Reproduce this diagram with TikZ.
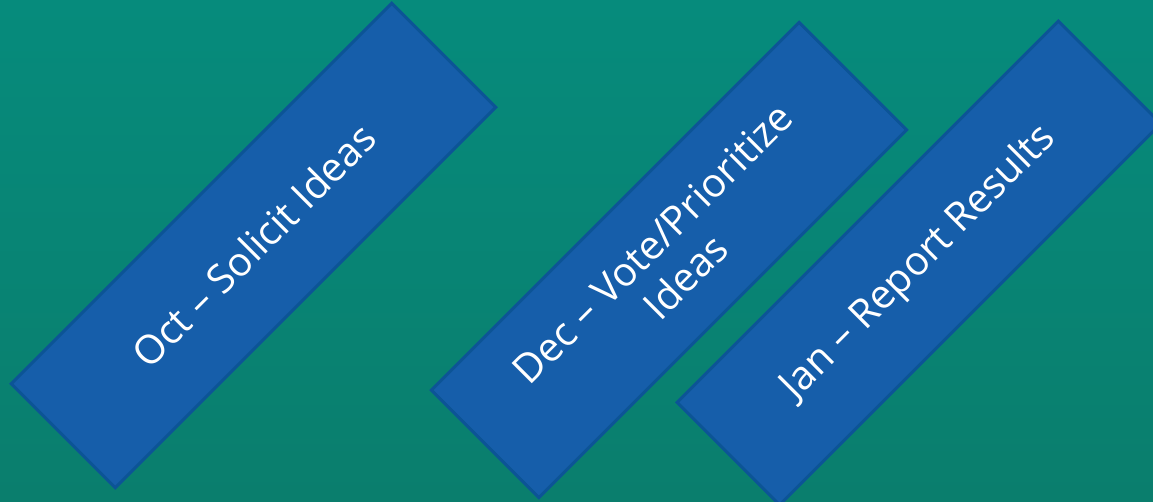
\documentclass[tikz,border=0pt]{standalone}
\usepackage{fontspec}
\setmainfont{Open Sans}
\definecolor{bgtop}{HTML}{068B7C}
\definecolor{bgbot}{HTML}{0A7E6D}
\definecolor{boxfill}{HTML}{165EAA}
\definecolor{boxline}{HTML}{0C5496}
\begin{document}
\begin{tikzpicture}[x=1pt,y=-1pt,
  phase/.style={draw=boxline,fill=boxfill,line width=3pt,rotate=45,
    text=white,align=center,inner sep=0pt,
    font=\fontsize{40}{47}\selectfont}]
\shade[top color=bgtop,bottom color=bgbot] (0,0) rectangle (1153,501);
\useasboundingbox (0,0) rectangle (1153,501);
\clip (0,0) rectangle (1153,501);

\node[phase,minimum width=538pt,minimum height=147pt] (oct) at (253.5,245.5) {Oct – Solicit Ideas};
\node[phase,minimum width=520pt,minimum height=152pt] (dec) at (669,260) {Dec – Vote/Prioritize\\Ideas};
\node[phase,minimum width=539pt,minimum height=145pt] (jan) at (919,263) {Jan – Report Results};
\end{tikzpicture}
\end{document}
